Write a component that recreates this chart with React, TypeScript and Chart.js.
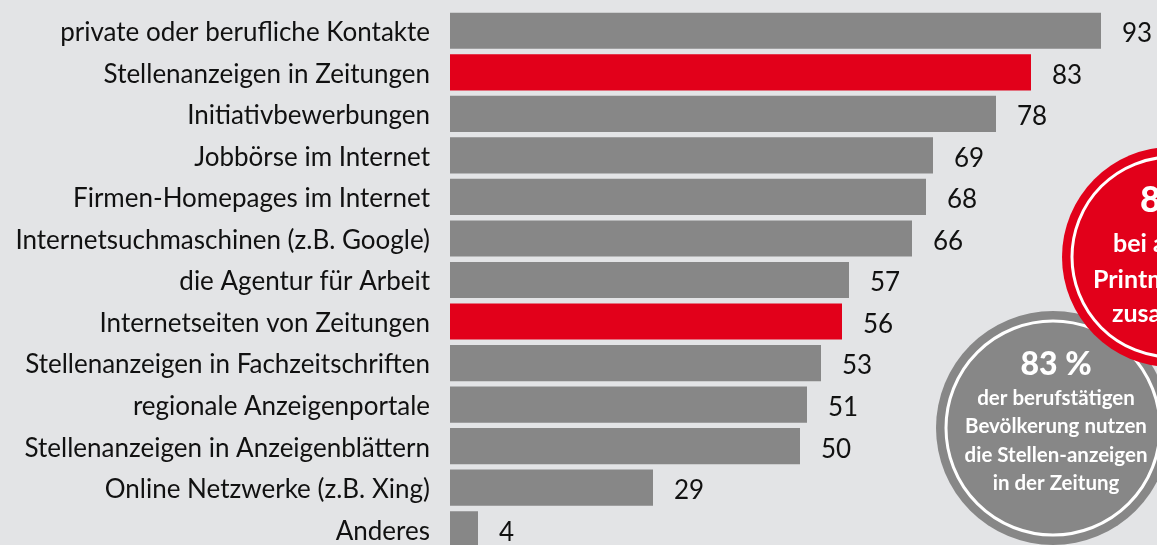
import React, { useEffect, useRef } from "react";
import { Chart, registerables } from "chart.js";

Chart.register(...registerables);

const categories = [
  "private oder berufliche Kontakte",
  "Stellenanzeigen in Zeitungen",
  "Initiativbewerbungen",
  "Jobbörse im Internet",
  "Firmen-Homepages im Internet",
  "Internetsuchmaschinen (z.B. Google)",
  "die Agentur für Arbeit",
  "Internetseiten von Zeitungen",
  "Stellenanzeigen in Fachzeitschriften",
  "regionale Anzeigenportale",
  "Stellenanzeigen in Anzeigenblättern",
  "Online Netzwerke (z.B. Xing)",
  "Anderes",
];
const values = [93, 83, 78, 69, 68, 66, 57, 56, 53, 51, 50, 29, 4];
const highlighted = [false, true, false, false, false, false, false, true, false, false, false, false, false];

const grayBubbleLines = ["83 %", "der berufstätigen", "Bevölkerung nutzen", "die Stellen-anzeigen", "in der Zeitung"];
const redBubbleLines = ["86 %", "bei allen", "Printmedien", "zusammen"];

const BG = "#e3e4e6";
const GRAY = "#878787";
const RED = "#e2001a";
const FONT = "Lato";

export default function App() {
  const ref = useRef<HTMLCanvasElement>(null);
  useEffect(() => {
    const canvas = ref.current!;
    const bgPlugin = {
      id: "bg",
      beforeDraw(chart: any) {
        const c = chart.ctx;
        c.save();
        c.fillStyle = BG;
        c.fillRect(0, 0, chart.width, chart.height);
        c.restore();
      },
    };
    const labelPlugin = {
      id: "labels",
      afterDatasetsDraw(chart: any) {
        const c = chart.ctx;
        const meta = chart.getDatasetMeta(0);
        const left = chart.chartArea.left;
        c.save();
        c.font = `26px ${FONT}`;
        c.fillStyle = "#111";
        c.textBaseline = "middle";
        meta.data.forEach((bar: any, i: number) => {
          c.textAlign = "right";
          c.fillText(categories[i], left - 20, bar.y + 2);
          c.textAlign = "left";
          c.fillText(String(values[i]), bar.x + 21, bar.y + 3);
        });
        c.restore();
      },
    };
    const bubble = (c: CanvasRenderingContext2D, x: number, y: number, r: number, color: string) => {
      c.beginPath();
      c.arc(x, y, r, 0, Math.PI * 2);
      c.fillStyle = color;
      c.fill();
      c.beginPath();
      c.arc(x, y, r - 10, 0, Math.PI * 2);
      c.strokeStyle = "#fff";
      c.lineWidth = 3;
      c.stroke();
    };
    const bubblePlugin = {
      id: "bubbles",
      afterDraw(chart: any) {
        const c = chart.ctx;
        c.save();
        const gx = 1053, gy = 428;
        bubble(c, gx, gy, 117, GRAY);
        c.fillStyle = "#fff";
        c.textAlign = "center";
        c.textBaseline = "alphabetic";
        c.font = `900 32px ${FONT}`;
        c.fillText(grayBubbleLines[0], gx + 3, 375);
        c.font = `bold 20.5px ${FONT}`;
        for (let i = 1; i < grayBubbleLines.length; i++) {
          c.fillText(grayBubbleLines[i], gx + 3, 405 + (i - 1) * 28.3);
        }
        const rx = 1172, ry = 257;
        bubble(c, rx, ry, 110, RED);
        c.fillStyle = "#fff";
        c.font = `900 36px ${FONT}`;
        c.textAlign = "left";
        c.fillText(redBubbleLines[0], 1140, 212);
        c.font = `bold 25px ${FONT}`;
        c.fillText(redBubbleLines[1], 1113, 252);
        c.fillText(redBubbleLines[2], 1093, 288);
        c.fillText(redBubbleLines[3], 1112, 322);
        c.restore();
      },
    };
    const chart = new Chart(canvas, {
      type: "bar",
      data: {
        labels: categories,
        datasets: [
          {
            data: values,
            backgroundColor: values.map((_, i) => (highlighted[i] ? RED : GRAY)),
            borderWidth: 0,
            categoryPercentage: 1,
            barPercentage: 0.87,
          },
        ],
      },
      options: {
        indexAxis: "y",
        responsive: false,
        animation: false,
        layout: { padding: { top: 10, bottom: 0, left: 450, right: 0 } },
        plugins: { legend: { display: false }, tooltip: { enabled: false } },
        scales: {
          x: { display: false, min: 0, max: 101 },
          y: { display: false },
        },
      },
      plugins: [bgPlugin, labelPlugin, bubblePlugin],
    });
    return () => chart.destroy();
  }, []);
  return (
    <div
      style={{
        position: "fixed",
        left: 0,
        top: 0,
        width: 1157,
        height: 545,
        overflow: "hidden",
        background: BG,
      }}
    >
      <canvas ref={ref} width={1157} height={550} style={{ display: "block" }} />
    </div>
  );
}
